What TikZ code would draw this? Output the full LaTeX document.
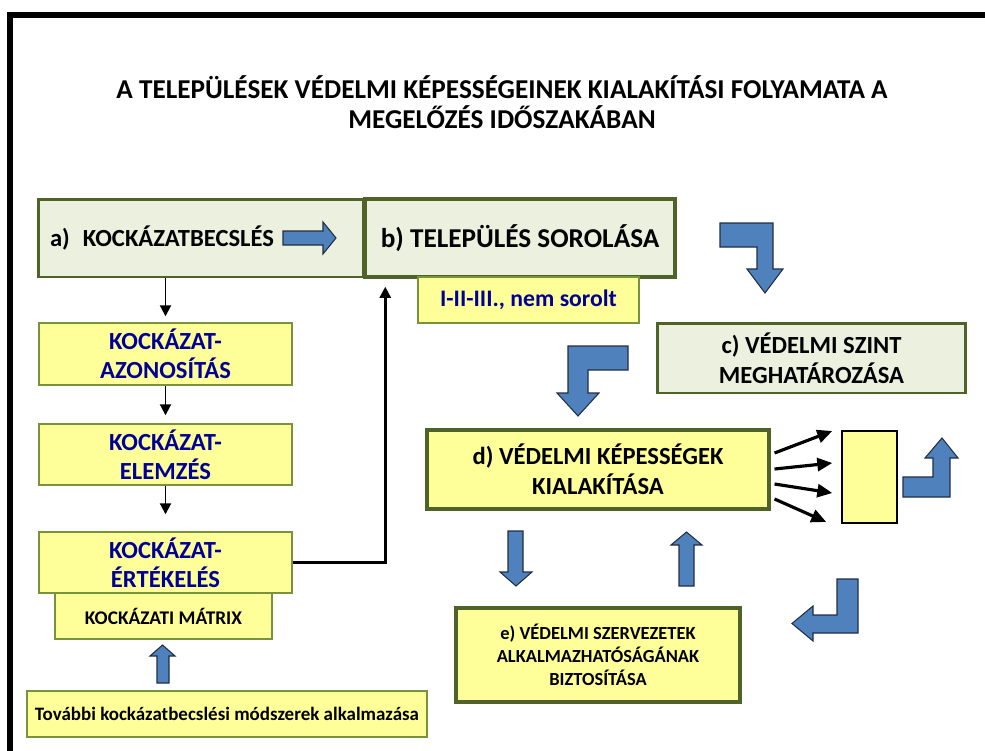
\documentclass[tikz,border=0pt]{standalone}
\usepackage{fontspec}
\setmainfont{Carlito}
\usepackage{tikz}
\usetikzlibrary{arrows.meta,positioning,calc}
\definecolor{boxgreen}{RGB}{235,241,222}
\definecolor{boxedge}{RGB}{79,98,40}
\definecolor{thinedge}{RGB}{119,147,60}
\definecolor{paleyellow}{RGB}{255,255,153}
\definecolor{arrowblue}{RGB}{79,129,189}
\definecolor{arrowedge}{RGB}{35,45,65}
\definecolor{navytext}{RGB}{0,0,150}
\newcommand{\fsz}[2]{\fontsize{#1}{#2}\selectfont\bfseries}

\begin{document}
\begin{tikzpicture}[
    x=0.02cm, y=-0.02cm,
    greenbox/.style={draw=boxedge, line width=1.7pt, fill=boxgreen, align=center, inner sep=0pt},
    yelbox/.style={draw=thinedge, line width=0.8pt, fill=paleyellow, align=center, inner sep=0pt},
    yelthick/.style={draw=boxedge, line width=1.8pt, fill=paleyellow, align=center, inner sep=0pt},
    blockarr/.style={fill=arrowblue, draw=arrowedge, line width=0.6pt, line join=miter},
    arr/.style={-{Triangle[length=2.2mm, width=2.2mm]}, line width=1.1pt},
    fan/.style={-{Triangle[length=3mm, width=2.6mm]}, line width=1.8pt}
]
    \useasboundingbox (0,0) rectangle (985,751);
    % frame
    \draw[line width=0.12cm, line join=miter] (10,751) -- (10,15) -- (985,15);

    \node[align=center, font=\fsz{15.5}{17pt}] (title) at (502,102)
        {A TELEPÜLÉSEK VÉDELMI KÉPESSÉGEINEK KIALAKÍTÁSI FOLYAMATA A\\MEGELŐZÉS IDŐSZAKÁBAN};

    % top row
    \node[greenbox, minimum width=6.52cm, minimum height=1.56cm, text width=6.04cm, align=left,
          font=\fsz{14}{16pt}] (a) at (201,238) {a)\hspace{0.2em} KOCKÁZATBECSLÉS};
    \node[greenbox, minimum width=6.2cm, minimum height=1.56cm, line width=2pt,
          font=\fsz{15.5}{18pt}] (b) at (520,238) {b) TELEPÜLÉS SOROLÁSA};
    \node[yelbox, minimum width=4.42cm, minimum height=0.92cm, text=navytext,
          font=\fsz{13.5}{16pt}] (sor) at (528.5,300) {I-II-III., nem sorolt};

    % left column
    \node[yelbox, minimum width=5.06cm, minimum height=1.24cm, text=navytext,
          font=\fsz{14}{16.5pt}] (azon) at (165.5,354) {KOCKÁZAT-\\AZONOSÍTÁS};
    \node[yelbox, minimum width=5.06cm, minimum height=1.22cm, text=navytext,
          font=\fsz{14}{16.5pt}] (elem) at (165.5,454.5) {KOCKÁZAT-\\ELEMZÉS};
    \node[yelbox, minimum width=5.06cm, minimum height=1.22cm, text=navytext,
          font=\fsz{14}{16.5pt}] (ertek) at (165.5,562.5) {KOCKÁZAT-\\ÉRTÉKELÉS};
    \node[yelbox, minimum width=4.34cm, minimum height=0.92cm,
          font=\fsz{11}{13pt}] (matrix) at (163.5,616) {KOCKÁZATI MÁTRIX};
    \node[yelbox, minimum width=8cm, minimum height=0.92cm,
          font=\fsz{10.8}{13pt}] (tovabbi) at (227,714) {További kockázatbecslési módszerek alkalmazása};

    % right part
    \node[greenbox, minimum width=6.18cm, minimum height=1.4cm,
          font=\fsz{14}{17pt}] (c) at (811.5,358) {c) VÉDELMI SZINT\\MEGHATÁROZÁSA};
    \node[yelthick, minimum width=6.84cm, minimum height=1.58cm,
          font=\fsz{14}{17pt}] (d) at (598,469.5) {d) VÉDELMI KÉPESSÉGEK\\KIALAKÍTÁSA};
    \node[draw, line width=0.8pt, fill=paleyellow, minimum width=1.1cm, minimum height=1.84cm,
          inner sep=0pt] (blank) at (869.5,477) {};
    \node[yelthick, minimum width=5.68cm, minimum height=1.88cm,
          font=\fsz{10.5}{13pt}] (e) at (598,655)
        {e) VÉDELMI SZERVEZETEK\\ALKALMAZHATÓSÁGÁNAK\\BIZTOSÍTÁSA};

    % connectors
    \draw[arr] (azon.north |- a.south) -- ([yshift=0.12cm]azon.north);
    \draw[arr] (azon.south) -- ([yshift=0.16cm]elem.north);
    \draw[arr] (elem.south) -- ([yshift=0.34cm]ertek.north);
    \draw[arr, line width=1.4pt] (ertek.east) -| ([xshift=0.44cm, yshift=-0.16cm]b.south west);

    \draw[fan] ($(d.east)+(4,-16.5)$) -- ($(blank.west)+(-9,-46)$);
    \draw[fan] ($(d.east)+(4,-0.5)$) -- ($(blank.west)+(-9,-14)$);
    \draw[fan] ($(d.east)+(4,14.5)$) -- ($(blank.west)+(-9,16)$);
    \draw[fan] ($(d.east)+(4,29.5)$) -- ($(blank.west)+(-15,45)$);

    % block arrows
    \draw[blockarr] (283,231) -- (323,231) -- (323,222) -- (336,238) -- (323,254) -- (323,245) -- (283,245) -- cycle;
    \draw[blockarr] (720,223) -- (773,223) -- (773,269) -- (783,269) -- (765,293) -- (747,269) -- (757,269) -- (757,247) -- (720,247) -- cycle;
    \draw[blockarr] (628,346) -- (628,370) -- (588,370) -- (588,393) -- (599,393) -- (578,416) -- (557,393) -- (568,393) -- (568,346) -- cycle;
    \draw[blockarr] (903,497) -- (950,497) -- (950,458) -- (958,458) -- (942,438) -- (925,458) -- (933,458) -- (933,477) -- (903,477) -- cycle;
    \draw[blockarr] (837,579) -- (858,579) -- (858,633) -- (813,633) -- (813,641) -- (792,623.5) -- (813,606) -- (813,615) -- (837,615) -- cycle;
    \draw[blockarr] (157,683) -- (157,656) -- (150,656) -- (162.5,645) -- (175,656) -- (169,656) -- (169,683) -- cycle;
    \draw[blockarr] (508,531) -- (523,531) -- (523,572) -- (532,572) -- (516,586) -- (500,572) -- (508,572) -- cycle;
    \draw[blockarr] (679,586) -- (679,545) -- (671,545) -- (686.5,532) -- (702,545) -- (694,545) -- (694,586) -- cycle;
\end{tikzpicture}
\end{document}
